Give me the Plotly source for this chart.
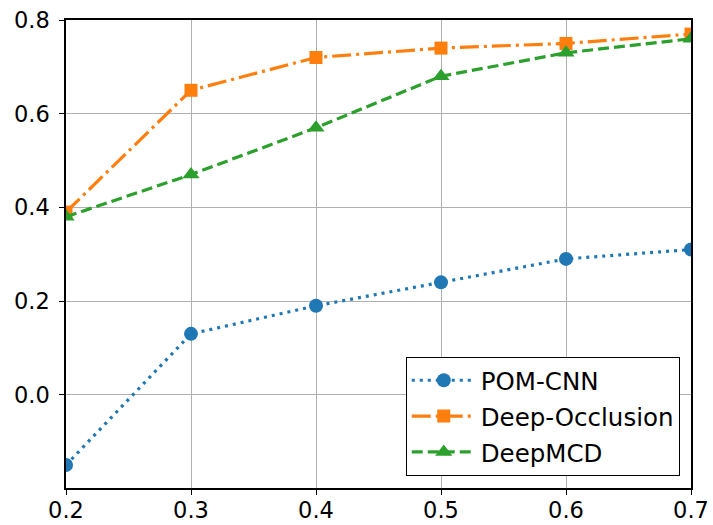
import plotly.graph_objects as go

x_vals = [0.2, 0.3, 0.4, 0.5, 0.6, 0.7]
pom_cnn = [-0.15, 0.13, 0.19, 0.24, 0.29, 0.31]
deep_occlusion = [0.39, 0.65, 0.72, 0.74, 0.75, 0.77]
deep_mcd = [0.38, 0.47, 0.57, 0.68, 0.73, 0.76]
x_ticks = [0.2, 0.3, 0.4, 0.5, 0.6, 0.7]
y_ticks = [0.0, 0.2, 0.4, 0.6, 0.8]

fig = go.Figure()
fig.add_trace(go.Scatter(x=x_vals, y=pom_cnn, name="POM-CNN", mode="lines+markers",
                         legendgroup="a",
                         line=dict(color="#1f77b4", width=3.2, dash="3px,5px"),
                         marker=dict(symbol="circle", size=14, color="#1f77b4")))
fig.add_trace(go.Scatter(x=x_vals, y=deep_occlusion, name="Deep-Occlusion", mode="lines+markers",
                         legendgroup="b",
                         line=dict(color="#ff7f0e", width=3.2, dash="19px,5px,3px,5px"),
                         marker=dict(symbol="square", size=13, color="#ff7f0e")))
fig.add_trace(go.Scatter(x=x_vals, y=deep_mcd, name="DeepMCD", mode="lines+markers",
                         legendgroup="c",
                         line=dict(color="#2ca02c", width=3.2, dash="11px,5px"),
                         marker=dict(symbol="triangle-up", size=15, color="#2ca02c")))

axis_common = dict(showgrid=True, gridcolor="#b0b0b0", gridwidth=1, showline=True,
                   linecolor="black", linewidth=1.5, mirror=True, ticks="outside",
                   ticklen=5, tickwidth=1.2, tickcolor="black", zeroline=False,
                   automargin=False,
                   tickfont=dict(family="DejaVu Sans", size=22.5, color="black"))

fig.update_xaxes(range=[0.2, 0.7], tickvals=x_ticks, ticktext=[f"{v:.1f}" for v in x_ticks],
                 ticklabelstandoff=-4, **axis_common)
fig.update_yaxes(range=[-0.199, 0.8], tickvals=y_ticks, ticktext=[f"{v:.1f}" for v in y_ticks],
                 ticklabelstandoff=5, **axis_common)

fig.update_layout(
    width=713, height=525,
    margin=dict(l=66, r=22, t=20, b=37),
    plot_bgcolor="white", paper_bgcolor="white",
    font=dict(family="DejaVu Sans", size=22.5, color="black"),
    legend=dict(x=0.982, y=0.026, xanchor="right", yanchor="bottom",
                bgcolor="white", bordercolor="black", borderwidth=1,
                font=dict(family="DejaVu Sans", size=24.5, color="black"),
                traceorder="grouped", tracegroupgap=1, itemwidth=64),
)

fig.write_html("out.html", config={"displayModeBar": False},
               post_script="document.body.style.margin='0';document.body.style.overflow='hidden';")
